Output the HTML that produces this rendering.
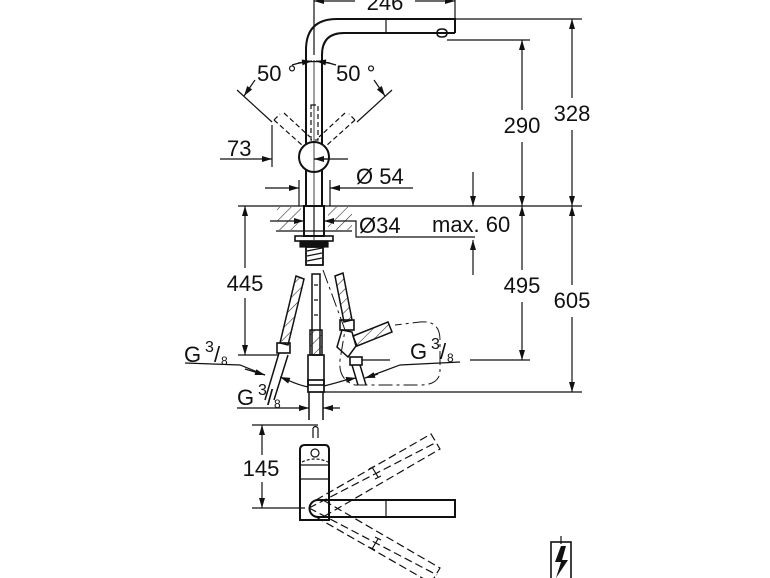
<!DOCTYPE html>
<html><head><meta charset="utf-8"><style>
html,body{margin:0;padding:0;background:#fff;width:770px;height:578px;overflow:hidden}
svg{display:block}
text{font-family:"Liberation Sans",sans-serif;fill:#111}
</style></head><body>
<svg width="770" height="578" viewBox="0 0 770 578" xmlns="http://www.w3.org/2000/svg">
<defs>
<marker id="a" viewBox="0 0 10 6" refX="10" refY="3" markerWidth="11" markerHeight="6" orient="auto-start-reverse" markerUnits="userSpaceOnUse"><path d="M0,0 L10,3 L0,6 z" fill="#111"/></marker>
<pattern id="h" width="8" height="8" patternUnits="userSpaceOnUse" patternTransform="rotate(45)"><line x1="0" y1="0" x2="0" y2="8" stroke="#222" stroke-width="1.1"/></pattern>
</defs>
<g stroke="#111" stroke-width="1.2" fill="none">
<path d="M306,55 L306,50 Q306,19 337,19 L455,19 L455,33" stroke-width="2"/>
<path d="M322,55 Q322,33 344,33 L455,33" stroke-width="2"/>
<line x1="386" y1="19" x2="386" y2="33"/>
<path d="M437,33 q0,-4 5,-4 q5,0 5,4 q0,4 -5,4 q-5,0 -5,-4z" stroke-width="1.5"/>
<line x1="455" y1="19" x2="582" y2="19"/>
<line x1="447" y1="40" x2="530" y2="40"/>
<line x1="314" y1="0" x2="314" y2="55"/>
<line x1="455" y1="0" x2="455" y2="19"/>
<line x1="314" y1="1" x2="355" y2="1" marker-start="url(#a)"/>
<line x1="415" y1="1" x2="455" y2="1" marker-end="url(#a)"/>
<line x1="306" y1="55" x2="306" y2="145" stroke-width="2"/>
<line x1="322" y1="55" x2="322" y2="145" stroke-width="2"/>
<line x1="306" y1="170" x2="306" y2="205" stroke-width="2"/>
<line x1="322" y1="170" x2="322" y2="205" stroke-width="2"/>
<line x1="314" y1="60" x2="314" y2="240" stroke-width="0.8"/>
<rect x="311" y="105" width="7" height="35" stroke-dasharray="5,3"/>
<circle cx="314" cy="157" r="15" stroke-width="2"/>
<line x1="237" y1="90" x2="272" y2="122"/>
<line x1="392" y1="90" x2="357" y2="122"/>
<path d="M274,120 L303,146 M284,113 L310,137 M274,120 l6,-6" stroke-dasharray="5,3"/>
<path d="M355,120 L326,146 M345,113 L319,137 M355,120 l-6,-6" stroke-dasharray="5,3"/>
<line x1="255" y1="80" x2="244" y2="96" marker-end="url(#a)"/>
<line x1="374" y1="80" x2="385" y2="96" marker-end="url(#a)"/>
<path d="M292,65 Q314,58 336,65"/>
<line x1="298" y1="63" x2="312" y2="61" marker-end="url(#a)"/>
<line x1="330" y1="63" x2="316" y2="61" marker-end="url(#a)"/>
<line x1="272" y1="125" x2="272" y2="167"/>
<line x1="220" y1="159" x2="272" y2="159" marker-end="url(#a)"/>
<line x1="314" y1="159" x2="348" y2="159"/>
<line x1="330" y1="159" x2="314" y2="159" marker-end="url(#a)"/>
<line x1="299" y1="180" x2="299" y2="206"/>
<line x1="330" y1="180" x2="330" y2="206"/>
<line x1="265" y1="188" x2="299" y2="188" marker-end="url(#a)"/>
<line x1="413" y1="188" x2="330" y2="188" marker-end="url(#a)"/>
<line x1="238" y1="206" x2="582" y2="206"/>
<rect x="277" y="207" width="24" height="23" fill="url(#h)" stroke="none"/>
<rect x="328" y="207" width="24" height="23" fill="url(#h)" stroke="none"/>
<line x1="276" y1="231" x2="352" y2="231"/>
<rect x="304" y="206" width="20" height="30" stroke-width="2"/>
<line x1="314" y1="206" x2="314" y2="236"/>
<line x1="270" y1="221" x2="304" y2="221" marker-end="url(#a)"/>
<line x1="344" y1="221" x2="324" y2="221" marker-end="url(#a)"/>
<path d="M344,221 L356,221 L356,237 L475,237"/>
<rect x="295" y="236" width="38" height="5" stroke-width="1.6"/>
<rect x="300" y="241" width="28" height="6" fill="#111"/>
<rect x="306" y="247" width="17" height="18" stroke-width="1.8"/>
<path d="M307,251 l15,-3 M307,256 l15,-3 M307,261 l15,-3"/>
<line x1="473" y1="172" x2="473" y2="206" marker-end="url(#a)"/>
<line x1="473" y1="275" x2="473" y2="240" marker-end="url(#a)"/>
<line x1="522" y1="40" x2="522" y2="110" marker-start="url(#a)"/>
<line x1="522" y1="142" x2="522" y2="206" marker-end="url(#a)"/>
<line x1="522" y1="206" x2="522" y2="270" marker-start="url(#a)"/>
<line x1="522" y1="302" x2="522" y2="360" marker-end="url(#a)"/>
<line x1="572" y1="19" x2="572" y2="98" marker-start="url(#a)"/>
<line x1="572" y1="130" x2="572" y2="206" marker-end="url(#a)"/>
<line x1="572" y1="206" x2="572" y2="285" marker-start="url(#a)"/>
<line x1="572" y1="317" x2="572" y2="392" marker-end="url(#a)"/>
<line x1="470" y1="360" x2="530" y2="360"/>
<line x1="320" y1="392" x2="582" y2="392"/>
<line x1="245" y1="206" x2="245" y2="268" marker-start="url(#a)"/>
<line x1="245" y1="298" x2="245" y2="355" marker-end="url(#a)"/>
<line x1="238" y1="355" x2="278" y2="355"/>
<path d="M296,276 L304,279 L288,345 L280,343 Z" fill="url(#h)" stroke-width="1.5"/>
<rect x="277" y="343" width="13" height="10" stroke-width="1.6"/>
<path d="M279,353 L265,400 M288,355 L274,400" stroke-width="1.5"/>
<path d="M335,276 L343,273 L352,320 L344,322 Z" fill="url(#h)" stroke-width="1.5"/>
<rect x="340" y="320" width="14" height="10" stroke-width="1.6"/>
<path d="M342,330 L337,347 L348,357 L356,346 L352,332 Z" stroke-width="1.5"/>
<path d="M353,336 L388,322 L392,332 L357,346 Z" fill="url(#h)" stroke-width="1.5"/>
<rect x="350" y="357" width="12" height="8" stroke-width="1.6"/>
<path d="M352,365 L358,385 M360,365 L366,385" stroke-width="1.5"/>
<line x1="362" y1="360" x2="390" y2="360"/>
<path d="M312,274 L320,274 L320,355 L312,355 Z" stroke-width="1.5"/>
<path d="M314,285 L318,285 M314,300 L318,300 M314,315 L318,315"/>
<rect x="310" y="330" width="12" height="25" fill="url(#h)" stroke-width="1.5"/>
<rect x="308" y="355" width="16" height="30" stroke-width="1.6"/>
<rect x="308" y="380" width="16" height="12" stroke-width="1.7"/>
<path d="M309,392 L309,420 M323,392 L323,420" stroke-width="1.5"/>
<path d="M323,270 L345,330 L340,360 Q338,380 355,385 L420,385 Q440,385 440,370 L440,340 Q440,320 420,322 L395,325" stroke-dasharray="14,4,3,4" stroke-width="1"/>
<path d="M185,363 L240,365 L265,375"/>
<line x1="245" y1="369" x2="265" y2="375" marker-end="url(#a)"/>
<path d="M283,378 Q298,385 308,387"/>
<line x1="290" y1="381" x2="280" y2="377" marker-end="url(#a)"/>
<path d="M324,386 Q340,382 352,378"/>
<line x1="345" y1="380" x2="356" y2="378" marker-end="url(#a)"/>
<path d="M460,362 L400,365 L365,378"/>
<line x1="378" y1="374" x2="365" y2="378" marker-end="url(#a)"/>
<line x1="237" y1="408" x2="309" y2="408" marker-end="url(#a)"/>
<line x1="340" y1="408" x2="323" y2="408" marker-end="url(#a)"/>
<line x1="252" y1="425" x2="318" y2="425"/>
<line x1="252" y1="508" x2="305" y2="508"/>
<line x1="262" y1="425" x2="262" y2="455" marker-start="url(#a)"/>
<line x1="262" y1="482" x2="262" y2="508" marker-end="url(#a)"/>
<path d="M313,428 L313,438 M318,428 L318,438 M313,428 Q315.5,425 318,428"/>
<path d="M300,520 L300,450 Q300,445 305,445 L325,445 Q329,445 329,450 L329,520 Z" stroke-width="2"/>
<line x1="300" y1="465" x2="329" y2="465"/>
<line x1="300" y1="479" x2="329" y2="479"/>
<circle cx="315" cy="453" r="4"/>
<path d="M302,462 Q315,456 328,462" stroke-dasharray="3,2"/>
<path d="M318,500 L455,500 L455,517 L318,517 A8.5,8.5 0 0 1 318,500 Z" stroke-width="2"/>
<line x1="386" y1="500" x2="386" y2="517"/>
<path d="M316,500 L431,434 L440,449 L323,517 M309,508 L437,442" stroke-dasharray="8,4"/>
<path d="M316,517 L431,583 L440,568 L323,500 M309,508 L437,575" stroke-dasharray="8,4"/>
<path d="M372,467 l6,10 M369,469 l6,-3 M375,479 l6,-3"/>
<path d="M372,549 l6,-10 M369,547 l6,3 M375,537 l6,3"/>
<rect x="551" y="542" width="20" height="40" stroke-width="1.6"/>
<line x1="561" y1="536" x2="561" y2="544"/>
</g>
<path d="M561,546 L555,562 L561,562 L556,578 L568,560 L562,560 L566,546 Z" fill="#111"/>
<g font-size="22">
<text x="385" y="10" text-anchor="middle">246</text>
<text x="257" y="81">50 °</text>
<text x="336" y="81">50 °</text>
<text x="227" y="156">73</text>
<text x="356" y="184">Ø 54</text>
<text x="359" y="233">Ø34</text>
<text x="432" y="232">max. 60</text>
<text x="522" y="133" text-anchor="middle">290</text>
<text x="572" y="121" text-anchor="middle">328</text>
<text x="522" y="293" text-anchor="middle">495</text>
<text x="572" y="308" text-anchor="middle">605</text>
<text x="245" y="291" text-anchor="middle">445</text>
<text x="261" y="476" text-anchor="middle">145</text>
<text x="184" y="362">G</text><text x="205" y="352" font-size="16">3</text><text x="214" y="362">/</text><text x="221" y="365" font-size="12">8</text>
<text x="237" y="405">G</text><text x="258" y="395" font-size="16">3</text><text x="267" y="405">/</text><text x="274" y="408" font-size="12">8</text>
<text x="410" y="359">G</text><text x="431" y="349" font-size="16">3</text><text x="440" y="359">/</text><text x="447" y="362" font-size="12">8</text>
</g>
</svg>
</body></html>
